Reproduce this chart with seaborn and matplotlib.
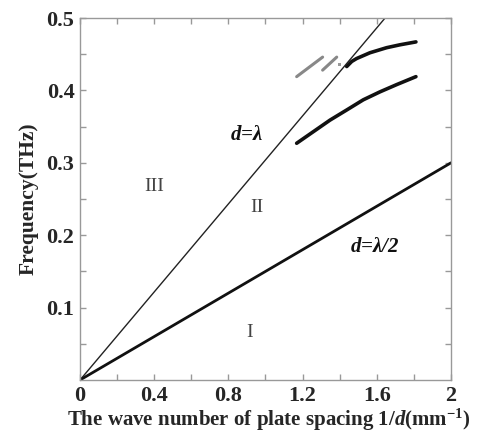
import matplotlib
matplotlib.use("Agg")
import matplotlib.pyplot as plt
import numpy as np
import seaborn as sns

# light-line boundaries: f = slope * (1/d)
light_x = [0.0, 2.0]
slope_d_lambda = 0.304     # d = lambda
slope_d_half = 0.15        # d = lambda/2

# dispersion branches (1/d in mm^-1, frequency in THz)
lower_x = [1.168, 1.258, 1.348, 1.438, 1.527, 1.617, 1.707, 1.811]
lower_f = [0.327, 0.343, 0.359, 0.373, 0.387, 0.398, 0.408, 0.419]
upper_x = [1.438, 1.465, 1.491, 1.563, 1.653, 1.725, 1.811]
upper_f = [0.433, 0.440, 0.444, 0.452, 0.459, 0.463, 0.467]

# grey short segments of a leaky branch
seg1_x = [1.168, 1.308]
seg1_f = [0.419, 0.446]
seg2_x = [1.308, 1.384]
seg2_f = [0.428, 0.446]
dot_x = [1.398]
dot_f = [0.436]

x_ticks = [0, 0.4, 0.8, 1.2, 1.6, 2]
x_tick_labels = ["0", "0.4", "0.8", "1.2", "1.6", "2"]
y_ticks = [0.1, 0.2, 0.3, 0.4, 0.5]
y_tick_labels = ["0.1", "0.2", "0.3", "0.4", "0.5"]

sns.set_theme(style="ticks")
plt.rcParams["font.family"] = ["Liberation Serif", "DejaVu Serif"]
plt.rcParams["mathtext.fontset"] = "custom"
plt.rcParams["mathtext.rm"] = "Liberation Serif:bold"
plt.rcParams["mathtext.it"] = "Liberation Serif:italic:bold"
plt.rcParams["mathtext.bf"] = "Liberation Serif:bold"

fig = plt.figure(figsize=(4.81, 4.34), dpi=100)
ax = fig.add_axes([0.1663, 0.1244, 0.7713, 0.8341])

lx = np.array(light_x)
sns.lineplot(x=lx, y=slope_d_lambda * lx, ax=ax, color="#222222", lw=1.0)
sns.lineplot(x=lx, y=slope_d_half * lx, ax=ax, color="#111111", lw=2.0)
sns.lineplot(x=lower_x, y=lower_f, ax=ax, color="#111111", lw=2.6)
sns.lineplot(x=upper_x, y=upper_f, ax=ax, color="#111111", lw=2.6)
sns.lineplot(x=seg1_x, y=seg1_f, ax=ax, color="#888888", lw=2.2)
sns.lineplot(x=seg2_x, y=seg2_f, ax=ax, color="#888888", lw=2.2)
sns.scatterplot(x=dot_x, y=dot_f, ax=ax, marker="s", s=5, color="#999999",
                edgecolor="none")

ax.set_xlim(0, 2)
ax.set_ylim(0, 0.5)
ax.set_xticks(x_ticks)
ax.set_xticklabels(x_tick_labels)
ax.set_yticks(y_ticks)
ax.set_yticklabels(y_tick_labels)
ax.set_xticks(np.arange(0.2, 2.0, 0.4), minor=True)
ax.set_yticks(np.arange(0.05, 0.5, 0.1), minor=True)

for side in ["left", "right", "top", "bottom"]:
    ax.spines[side].set_visible(True)
    ax.spines[side].set_color("#999999")
    ax.spines[side].set_linewidth(1.0)

ax.tick_params(which="both", direction="in", top=True, right=True,
               color="#999999", width=1.0)
ax.tick_params(which="major", length=4, labelsize=16, pad=4)
ax.tick_params(which="minor", length=4)
for lab in ax.get_xticklabels() + ax.get_yticklabels():
    lab.set_fontweight("bold")

ax.set_xlabel(r"The wave number of plate spacing 1/$d$(mm$^{\mathrm{-1}}$)",
              fontsize=15, fontweight="bold", labelpad=4)
ax.xaxis.set_label_coords(0.51, -0.075)
ax.set_ylabel("Frequency(THz)", fontsize=15.5, fontweight="bold", labelpad=6)

# region labels
ax.text(0.40, 0.267, "III", fontsize=14, color="#444444", ha="center", va="center")
ax.text(0.954, 0.238, "II", fontsize=14, color="#444444", ha="center", va="center")
ax.text(0.916, 0.065, "I", fontsize=14, color="#444444", ha="center", va="center")

ax.text(0.90, 0.338, r"$d$=$\lambda$", fontsize=15, fontweight="bold",
        style="italic", ha="center", va="center", color="#111111")
ax.text(1.59, 0.184, r"$d$=$\lambda$/2", fontsize=15, fontweight="bold",
        style="italic", ha="center", va="center", color="#111111")

fig.savefig("out.png", dpi=100)
